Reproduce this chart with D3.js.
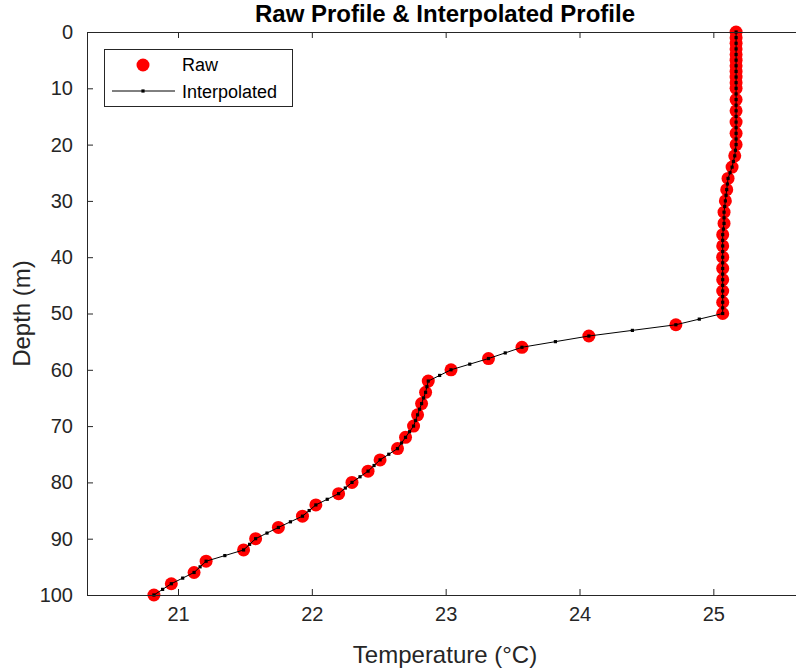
<html>
<head>
<script src="https://d3js.org/d3.v7.min.js"></script>
<style>
  body { margin: 0; background: #fff; }
  text { font-family: Arial, "Liberation Sans", sans-serif; fill: #262626; }
</style>
</head>
<body>
<svg id="chart" width="796" height="669"></svg>
<script>
// raw measurements (depth in m, temperature in degC)
var rawDepth = [0,1,2,3,4,5,6,7,8,9,10,
  12,14,16,18,20,22,24,26,28,30,32,34,36,38,40,42,44,46,48,50,
  52,54,56,58,60,62,64,66,68,70,72,74,76,78,80,82,84,86,88,90,92,94,96,98,100];
var rawTemp = [25.17,25.17,25.17,25.17,25.17,25.17,25.17,25.17,25.17,25.17,25.17,
  25.17,25.17,25.17,25.17,25.17,25.16,25.14,25.11,25.10,25.09,25.08,25.08,25.07,25.07,25.07,25.07,25.07,25.07,25.07,25.07,
  24.72,24.07,23.57,23.32,23.04,22.87,22.85,22.82,22.79,22.76,22.70,22.64,22.51,22.42,22.30,22.20,22.03,21.93,21.75,21.58,21.49,21.21,21.12,20.95,20.82];

// interpolated profile, one point per metre
var interpDepth = [0,1,2,3,4,5,6,7,8,9,10,11,12,13,14,15,16,17,18,19,20,
  21,22,23,24,25,26,27,28,29,30,31,32,33,34,35,36,37,38,39,40,
  41,42,43,44,45,46,47,48,49,50,51,52,53,54,55,56,57,58,59,60,
  61,62,63,64,65,66,67,68,69,70,71,72,73,74,75,76,77,78,79,80,
  81,82,83,84,85,86,87,88,89,90,91,92,93,94,95,96,97,98,99,100];
var interpTemp = [25.17,25.17,25.17,25.17,25.17,25.17,25.17,25.17,25.17,25.17,25.17,25.17,25.17,25.17,25.17,25.17,25.17,25.17,25.17,25.17,25.17,
  25.165,25.16,25.15,25.14,25.125,25.11,25.105,25.10,25.095,25.09,25.085,25.08,25.08,25.08,25.075,25.07,25.07,25.07,25.07,25.07,
  25.07,25.07,25.07,25.07,25.07,25.07,25.07,25.07,25.07,25.07,24.895,24.72,24.395,24.07,23.82,23.57,23.445,23.32,23.18,23.04,
  22.955,22.87,22.86,22.85,22.835,22.82,22.805,22.79,22.775,22.76,22.73,22.70,22.67,22.64,22.575,22.51,22.465,22.42,22.36,22.30,
  22.25,22.20,22.115,22.03,21.98,21.93,21.84,21.75,21.665,21.58,21.535,21.49,21.35,21.21,21.165,21.12,21.035,20.95,20.885,20.82];

var xTicks = [21, 22, 23, 24, 25];
var yTicks = [0, 10, 20, 30, 40, 50, 60, 70, 80, 90, 100];
var xDomain = [20.32, 25.67];
var yDomain = [0, 100];

var svg = d3.select('#chart');

// plot box
var pLeft = 87, pRight = 803, pTop = 32, pBottom = 595;
var axisColor = '#262626';

var x = d3.scaleLinear().domain(xDomain).range([pLeft, pRight]);
var y = d3.scaleLinear().domain(yDomain).range([pTop, pBottom]);

// raw points
svg.append('g')
  .selectAll('circle')
  .data(rawDepth)
  .enter()
  .append('circle')
    .attr('cx', function(d, i) { return x(rawTemp[i]); })
    .attr('cy', function(d) { return y(d); })
    .attr('r', 6.5)
    .style('fill', '#ff0000');

// interpolated line + markers
var line = d3.line()
  .x(function(d, i) { return x(interpTemp[i]); })
  .y(function(d) { return y(d); });

svg.append('path')
  .datum(interpDepth)
  .attr('d', line)
  .style('fill', 'none')
  .style('stroke', '#000')
  .style('stroke-width', 1);

svg.append('g')
  .selectAll('rect')
  .data(interpDepth)
  .enter()
  .append('rect')
    .attr('x', function(d, i) { return x(interpTemp[i]) - 1.6; })
    .attr('y', function(d) { return y(d) - 1.6; })
    .attr('width', 3.2)
    .attr('height', 3.2)
    .style('fill', '#000');

// axes (ticks pointing inward, box on)
function styleAxis(g) {
  g.selectAll('path, line').style('stroke', axisColor).style('stroke-width', 1);
  g.selectAll('text').style('font-size', '20px').style('fill', axisColor)
    .style('font-family', 'Arial, "Liberation Sans", sans-serif');
}

svg.append('g')
  .attr('transform', 'translate(0,' + pBottom + ')')
  .call(d3.axisBottom(x).tickValues(xTicks).tickFormat(d3.format('d'))
    .tickSize(-6).tickSizeOuter(0).tickPadding(12))
  .call(styleAxis);

svg.append('g')
  .attr('transform', 'translate(0,' + pTop + ')')
  .call(d3.axisTop(x).tickValues(xTicks).tickSize(-6).tickSizeOuter(0).tickFormat(''))
  .call(styleAxis);

svg.append('g')
  .attr('transform', 'translate(' + pLeft + ',0)')
  .call(d3.axisLeft(y).tickValues(yTicks).tickFormat(d3.format('d'))
    .tickSize(-6).tickSizeOuter(0).tickPadding(14))
  .call(styleAxis);

svg.append('g')
  .attr('transform', 'translate(' + pRight + ',0)')
  .call(d3.axisRight(y).tickValues(yTicks).tickSize(-6).tickSizeOuter(0).tickFormat(''))
  .call(styleAxis);

// title and labels
svg.append('text')
  .attr('x', (pLeft + pRight) / 2)
  .attr('y', 22)
  .attr('text-anchor', 'middle')
  .style('font-size', '24px')
  .style('font-weight', 'bold')
  .style('fill', '#000')
  .text('Raw Profile & Interpolated Profile');

svg.append('text')
  .attr('x', (pLeft + pRight) / 2)
  .attr('y', 663)
  .attr('text-anchor', 'middle')
  .style('font-size', '24px')
  .text('Temperature (\u00B0C)');

svg.append('text')
  .attr('transform', 'translate(30,' + ((pTop + pBottom) / 2) + ') rotate(-90)')
  .attr('text-anchor', 'middle')
  .style('font-size', '24px')
  .text('Depth (m)');

// legend
var legend = svg.append('g');
legend.append('rect')
  .attr('x', 104.5).attr('y', 49.5)
  .attr('width', 188).attr('height', 57)
  .style('fill', '#fff')
  .style('stroke', axisColor)
  .style('stroke-width', 1);
legend.append('circle')
  .attr('cx', 143).attr('cy', 65).attr('r', 6.5)
  .style('fill', '#ff0000');
legend.append('line')
  .attr('x1', 112).attr('x2', 175).attr('y1', 91).attr('y2', 91)
  .style('stroke', '#000').style('stroke-width', 1);
legend.append('rect')
  .attr('x', 141.4).attr('y', 89.4).attr('width', 3.2).attr('height', 3.2)
  .style('fill', '#000');
legend.append('text')
  .attr('x', 182).attr('y', 71)
  .style('font-size', '18px')
  .style('fill', '#000')
  .text('Raw');
legend.append('text')
  .attr('x', 182).attr('y', 98)
  .style('font-size', '18px')
  .style('fill', '#000')
  .text('Interpolated');
</script>
</body>
</html>
